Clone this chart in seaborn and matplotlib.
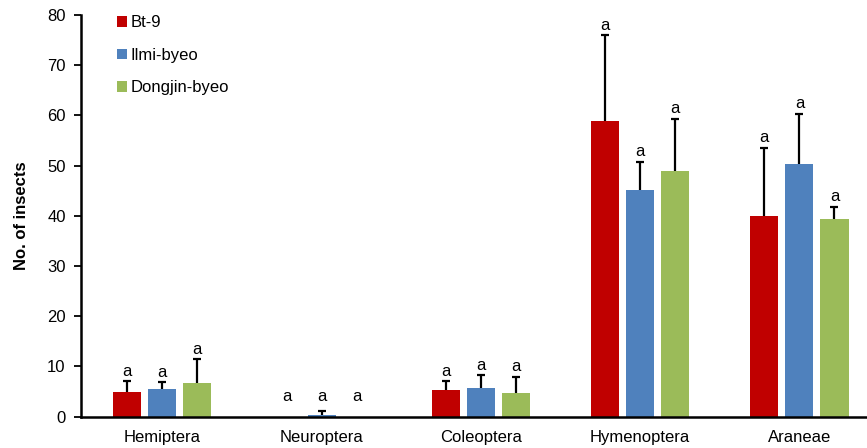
import matplotlib
matplotlib.use("Agg")
import matplotlib.pyplot as plt
import seaborn as sns
import pandas as pd
import numpy as np

orders = ["Hemiptera", "Neuroptera", "Coleoptera", "Hymenoptera", "Araneae"]
varieties = ["Bt-9", "Ilmi-byeo", "Dongjin-byeo"]
colors = ["#C00000", "#4F81BD", "#9BBB59"]

bt9_mean = [4.9, 0.0, 5.3, 58.9, 39.9]
bt9_se = [2.1, 0.0, 1.7, 17.1, 13.6]
ilmi_mean = [5.4, 0.2, 5.6, 45.2, 50.3]
ilmi_se = [1.4, 0.8, 2.6, 5.6, 10.0]
dong_mean = [6.6, 0.0, 4.7, 48.9, 39.3]
dong_se = [4.8, 0.0, 3.2, 10.4, 2.5]
letters = [["a"] * 5, ["a"] * 5, ["a"] * 5]

means = [bt9_mean, ilmi_mean, dong_mean]
ses = [bt9_se, ilmi_se, dong_se]

rows = []
for v, m, s in zip(varieties, means, ses):
    for o, mv, sv in zip(orders, m, s):
        rows.append({"order": o, "variety": v, "mean": mv, "se": sv})
df = pd.DataFrame(rows)

sns.set_style("white")
plt.rcParams["font.family"] = ["Liberation Sans", "DejaVu Sans"]
plt.rcParams["text.color"] = "black"
plt.rcParams["axes.labelcolor"] = "black"
plt.rcParams["xtick.color"] = "black"
plt.rcParams["ytick.color"] = "black"

W, H = 867, 448
fig = plt.figure(figsize=(W / 100, H / 100), dpi=100)
# the plot area runs past the right edge of the figure
x_lo, x_hi = -0.51, 4.5
unit_px = 159.3
left_px, bottom_px, top_px = 81, 416.5, 15
ax = fig.add_axes([left_px / W, 1 - bottom_px / H,
                   (x_hi - x_lo) * unit_px / W, (bottom_px - top_px) / H])

sns.barplot(data=df, x="order", y="mean", hue="variety", order=orders,
            hue_order=varieties, palette=colors, width=0.66, gap=0.2,
            errorbar=None, saturation=1, ax=ax, linewidth=0)

# upward-only error bars and significance letters, one hue level per container
for cont, m, s, lab in zip(ax.containers, means, ses, letters):
    xs = [p.get_x() + p.get_width() / 2 for p in cont.patches]
    for x, mv, sv, lt in zip(xs, m, s, lab):
        if sv > 0:
            _, caps, _ = ax.errorbar(x, mv, yerr=[[0], [sv]], fmt="none",
                                     ecolor="black", elinewidth=1.6,
                                     capsize=3, capthick=1.6)
            caps[0].remove()
        top = max(mv + sv, 1.9)
        ax.text(x, top + 0.5, lt, ha="center", va="bottom", fontsize=12,
                color="black")

ax.set_xlim(x_lo, x_hi)
ax.set_ylim(0, 80)
ax.set_yticks(np.arange(0, 81, 10))
ax.set_xlabel("")
ax.set_ylabel("No. of insects", fontsize=12, fontweight="bold", labelpad=13)
ax.tick_params(axis="y", which="major", direction="out", length=5, width=1.3,
               labelsize=12, left=True, pad=6)
ax.tick_params(axis="x", length=0, labelsize=12, pad=10)

for side in ["top", "right"]:
    ax.spines[side].set_visible(False)
for side in ["left", "bottom"]:
    ax.spines[side].set_color("black")
    ax.spines[side].set_linewidth(1.8)

leg = ax.legend(loc="upper left", bbox_to_anchor=(0.037, 1.016), frameon=False,
                fontsize=12, handlelength=0.6, handleheight=0.6,
                handletextpad=0.2, labelspacing=1.05, borderaxespad=0)
for t in leg.get_texts():
    t.set_color("black")

fig.savefig("out.png", dpi=100)
